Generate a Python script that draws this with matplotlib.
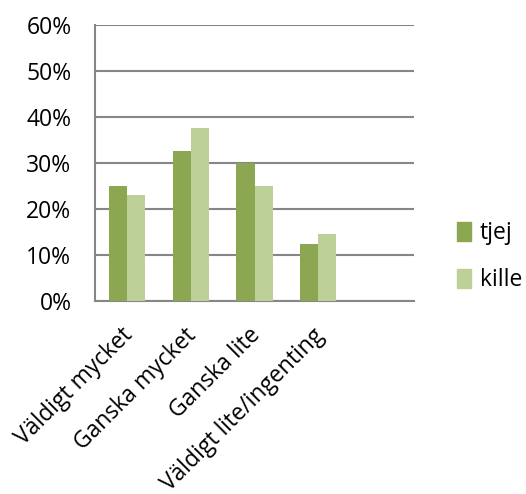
import matplotlib
matplotlib.use("Agg")
import matplotlib.pyplot as plt
import matplotlib.transforms as mtransforms
import numpy as np
from matplotlib.patches import Patch

categories = ["Väldigt mycket", "Ganska mycket", "Ganska lite", "Väldigt lite/ingenting", ""]
series_names = ["tjej", "kille"]
tjej = [25, 32.5, 30, 12.5, np.nan]
kille = [23, 37.5, 25, 14.5, np.nan]
yticks = [0, 10, 20, 30, 40, 50, 60]

c_tjej = "#8BA751"
c_kille = "#BCD098"
grid_c = "#868686"

plt.rcParams['font.family'] = ['Open Sans', 'DejaVu Sans']

fig = plt.figure(figsize=(5.26, 4.94), dpi=100)
ax = fig.add_axes([95/526, 1-301/494, (414-95)/526, (301-25)/494])

x = np.arange(len(categories))
w = 0.285
ax.bar(x - w/2, tjej, w, color=c_tjej, zorder=3, label=series_names[0])
ax.bar(x + w/2, kille, w, color=c_kille, zorder=3, label=series_names[1])

ax.set_xlim(-0.5, len(categories) - 0.5)
ax.set_ylim(0, 60)
ax.set_yticks(yticks)
ax.set_yticklabels([f"{v}%" for v in yticks], fontsize=16.5, color="#000000")
ax.yaxis.grid(True, color=grid_c, linewidth=1.5, zorder=0)
ax.set_xticks(x)
ax.set_xticklabels(categories, rotation=45, ha='right', rotation_mode='anchor', fontsize=16.5)
ax.tick_params(axis='y', length=0, pad=17)
ax.tick_params(axis='x', length=0, pad=14)
offset = mtransforms.ScaledTranslation(-6/100, -3/100, fig.dpi_scale_trans)
for lbl in ax.get_xticklabels():
    lbl.set_transform(lbl.get_transform() + offset)

for s in ['top', 'right']:
    ax.spines[s].set_visible(False)
for s in ['left', 'bottom']:
    ax.spines[s].set_color(grid_c)
    ax.spines[s].set_linewidth(1.5)

handles = [Patch(color=c_tjej, label=series_names[0]), Patch(color=c_kille, label=series_names[1])]
fig.legend(handles=handles, loc='center left', bbox_to_anchor=(0.83, 0.48), frameon=False,
           fontsize=16.5, labelspacing=1.0, handlelength=0.6, handleheight=0.9, handletextpad=0.4)

fig.savefig("out.png", dpi=100)
